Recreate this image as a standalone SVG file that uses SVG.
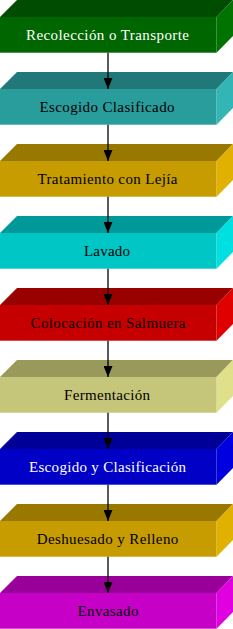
<svg xmlns="http://www.w3.org/2000/svg" width="233" height="629" viewBox="0 0 233 629">
<style>
text{font-family:'Liberation Serif',serif;font-size:15px;text-anchor:middle}
.w{fill:#ffffff}.b{fill:#000000}
.c line{stroke:#000;stroke-width:1.3}
</style>
<defs>
<marker id="ah" markerWidth="11" markerHeight="9" refX="11" refY="4.5" orient="auto" markerUnits="userSpaceOnUse" viewBox="0 0 11 9">
<path d="M0,0 L11,4.5 L0,9 Z" fill="#000"/>
</marker>
</defs>
<rect width="233" height="629" fill="#fff"/>
<g id="n1" transform="translate(0,0)">
<polygon points="0,17 17,0 233,0 216.5,17" fill="#004c00"/>
<polygon points="216.5,17 233,0 233,36 216.5,52.7" fill="#007300"/>
<rect x="0" y="17" width="216.5" height="35.7" fill="#006600"/>
<text x="107.5" y="39.5" class="w" textLength="163" lengthAdjust="spacing">Recolección o Transporte</text>
</g>
<g id="n2" transform="translate(0,72)">
<polygon points="0,17 17,0 233,0 216.5,17" fill="#217878"/>
<polygon points="216.5,17 233,0 233,36 216.5,52.7" fill="#33b5b5"/>
<rect x="0" y="17" width="216.5" height="35.7" fill="#299c9c"/>
<text x="107" y="39.5" class="b" textLength="135" lengthAdjust="spacing">Escogido Clasificado</text>
</g>
<g id="n3" transform="translate(0,144)">
<polygon points="0,17 17,0 233,0 216.5,17" fill="#997800"/>
<polygon points="216.5,17 233,0 233,36 216.5,52.7" fill="#e0b100"/>
<rect x="0" y="17" width="216.5" height="35.7" fill="#c69c00"/>
<text x="107.5" y="39.5" class="b" textLength="140" lengthAdjust="spacing">Tratamiento con Lejía</text>
</g>
<g id="n4" transform="translate(0,216)">
<polygon points="0,17 17,0 233,0 216.5,17" fill="#009999"/>
<polygon points="216.5,17 233,0 233,36 216.5,52.7" fill="#00e0e0"/>
<rect x="0" y="17" width="216.5" height="35.7" fill="#00c6c6"/>
<text x="107" y="39.5" class="b" textLength="46" lengthAdjust="spacing">Lavado</text>
</g>
<g id="n5" transform="translate(0,288)">
<polygon points="0,17 17,0 233,0 216.5,17" fill="#990000"/>
<polygon points="216.5,17 233,0 233,36 216.5,52.7" fill="#e00000"/>
<rect x="0" y="17" width="216.5" height="35.7" fill="#c60000"/>
<text x="108" y="39.5" class="b" textLength="155" lengthAdjust="spacing">Colocación en Salmuera</text>
</g>
<g id="n6" transform="translate(0,360)">
<polygon points="0,17 17,0 233,0 216.5,17" fill="#99995c"/>
<polygon points="216.5,17 233,0 233,36 216.5,52.7" fill="#e0e08a"/>
<rect x="0" y="17" width="216.5" height="35.7" fill="#c6c67a"/>
<text x="107" y="39.5" class="b" textLength="86" lengthAdjust="spacing">Fermentación</text>
</g>
<g id="n7" transform="translate(0,432)">
<polygon points="0,17 17,0 233,0 216.5,17" fill="#000099"/>
<polygon points="216.5,17 233,0 233,36 216.5,52.7" fill="#0000e0"/>
<rect x="0" y="17" width="216.5" height="35.7" fill="#0000c6"/>
<text x="107.5" y="39.5" class="w" textLength="157" lengthAdjust="spacing">Escogido y Clasificación</text>
</g>
<g id="n8" transform="translate(0,504)">
<polygon points="0,17 17,0 233,0 216.5,17" fill="#997800"/>
<polygon points="216.5,17 233,0 233,36 216.5,52.7" fill="#e0b100"/>
<rect x="0" y="17" width="216.5" height="35.7" fill="#c69c00"/>
<text x="107.5" y="39.5" class="b" textLength="141.6" lengthAdjust="spacing">Deshuesado y Relleno</text>
</g>
<g id="n9" transform="translate(0,576)">
<polygon points="0,17 17,0 233,0 216.5,17" fill="#990099"/>
<polygon points="216.5,17 233,0 233,36 216.5,52.7" fill="#e000e0"/>
<rect x="0" y="17" width="216.5" height="35.7" fill="#c600c6"/>
<text x="108" y="39.5" class="b" textLength="61" lengthAdjust="spacing">Envasado</text>
</g>
<g id="connectors" class="c">
<line x1="108" y1="52.7" x2="108" y2="89" marker-end="url(#ah)"/>
<line x1="108" y1="124.7" x2="108" y2="161" marker-end="url(#ah)"/>
<line x1="108" y1="196.7" x2="108" y2="233" marker-end="url(#ah)"/>
<line x1="108" y1="268.7" x2="108" y2="305" marker-end="url(#ah)"/>
<line x1="108" y1="340.7" x2="108" y2="377" marker-end="url(#ah)"/>
<line x1="108" y1="412.7" x2="108" y2="449" marker-end="url(#ah)"/>
<line x1="108" y1="484.7" x2="108" y2="521" marker-end="url(#ah)"/>
<line x1="108" y1="556.7" x2="108" y2="593" marker-end="url(#ah)"/>
</g>
</svg>
